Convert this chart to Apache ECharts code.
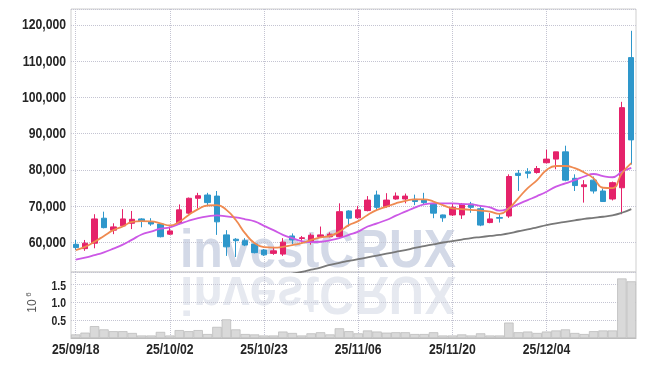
<!DOCTYPE html>
<html>
<head>
<meta charset="utf-8">
<script src="https://cdn.jsdelivr.net/npm/echarts@6/dist/echarts.min.js"></script>
<style>
html,body{margin:0;padding:0;background:#fff;}
#chart{width:645px;height:366px;}
</style>
</head>
<body>
<div id="chart"></div>
<script>
const categories = ['25/09/18','25/09/19','25/09/22','25/09/23','25/09/24','25/09/25','25/09/26','25/09/29','25/09/30','25/10/01',
'25/10/02','25/10/10','25/10/13','25/10/14','25/10/15','25/10/16','25/10/17','25/10/20','25/10/21','25/10/22',
'25/10/23','25/10/24','25/10/27','25/10/28','25/10/29','25/10/30','25/10/31','25/11/03','25/11/04','25/11/05',
'25/11/06','25/11/07','25/11/10','25/11/11','25/11/12','25/11/13','25/11/14','25/11/17','25/11/18','25/11/19',
'25/11/20','25/11/21','25/11/24','25/11/25','25/11/26','25/11/27','25/11/28','25/12/01','25/12/02','25/12/03',
'25/12/04','25/12/05','25/12/08','25/12/09','25/12/10','25/12/11','25/12/12','25/12/15','25/12/16','25/12/17'];

const opens = [59500,58300,59800,66700,63400,64600,65300,66500,65700,65100,
62300,65300,68100,72200,73100,72800,62100,60900,60500,59600,
57900,57000,56800,61800,61100,60000,61600,61600,61600,68700,
66800,68800,73100,69900,72000,72000,71900,71700,70800,67600,
67600,67600,70600,69300,65500,66900,67300,79100,79500,79300,
82000,83000,85000,77700,75400,77200,74200,72000,75100,111000];

const closes = [58600,59800,66500,64100,64300,66500,66400,65900,65100,61600,
63200,69000,72200,72900,71000,65700,58800,60500,59300,57200,
56600,57700,60100,60700,61300,62000,62100,62300,68500,66700,
69000,71700,69700,71700,72800,72800,71300,71000,68100,66800,
69700,70600,69700,64800,66500,66700,78200,78500,79100,80400,
83000,85000,77200,75700,75900,74200,71300,76500,97200,88300];

const lows = [57900,57700,58400,63900,62300,64400,63700,64200,64600,61400,
62100,65000,67900,69400,70300,62100,56300,56000,59000,57000,
56300,56600,56300,59600,60000,59400,61400,61400,61400,64400,
66500,68600,68800,69600,71800,70800,70300,70600,66700,65700,
67300,66500,68200,64500,65300,65500,66800,74200,77700,79000,
81800,80200,76900,74200,71000,73500,71200,71600,67800,81500];

const highs = [60700,60700,67800,68500,65300,69200,68700,66700,66700,65100,
64400,70500,72400,73700,73700,74200,63400,61200,61200,59800,
58200,58800,61200,62500,61800,62500,64400,62800,70800,68900,
70100,72800,74300,73600,73800,73500,73200,73700,70900,67700,
70600,70900,71200,70000,68100,67800,78800,80000,80500,81100,
85600,85000,86700,78800,77200,78200,74900,76800,98800,118400];

// volume in millions of shares
const volumes = [0.10,0.15,0.33,0.24,0.19,0.19,0.14,0.07,0.07,0.17,
0.07,0.22,0.19,0.22,0.11,0.31,0.52,0.24,0.11,0.10,
0.07,0.07,0.18,0.14,0.07,0.13,0.16,0.10,0.27,0.19,
0.13,0.21,0.18,0.15,0.16,0.16,0.11,0.11,0.16,0.07,
0.07,0.10,0.07,0.13,0.07,0.07,0.43,0.16,0.18,0.14,
0.18,0.21,0.24,0.14,0.11,0.19,0.21,0.21,1.66,1.58];

const ma5 = [57900,58800,60200,61800,63400,64400,65700,65900,65800,65300,
64700,65700,67600,69200,70200,70300,69000,66200,62500,59800,
58700,58600,58800,59300,59800,60700,61400,61800,63000,64800,
65900,67600,69000,69900,70800,71500,71900,71900,71300,70300,
69400,69200,69000,68800,68500,67900,69400,72200,75000,77200,
80000,81100,81100,80500,79300,77700,75100,75000,79100,81900];

const ma10 = [55300,55800,56500,57300,58300,59400,60800,62200,63000,63800,
64200,65100,66000,66700,67200,67500,67200,66900,66400,65800,
64600,63400,62100,61200,60400,60100,60200,60600,61200,62100,
63000,64400,65300,66200,67400,68500,69600,70500,70800,70800,
70800,70600,70500,70100,69700,68800,69400,70600,71700,72800,
74000,75400,76300,77200,78200,78900,78300,78000,79500,80600];

const ma60 = [null,null,null,null,null,null,null,null,null,null,
null,null,null,null,null,null,null,null,null,null,
null,null,null,51400,51900,52500,53100,53800,54400,54900,
55400,55900,56400,56900,57400,57900,58500,59000,59500,60000,
60400,60800,61200,61500,61800,62100,62500,63100,63600,64200,
64800,65300,65700,66100,66500,66800,67100,67500,68200,69200];

// tick labels
const priceTicks = [60000, 70000, 80000, 90000, 100000, 110000, 120000];
const volTicks = [0.5, 1.0, 1.5];
const dateTicks = ['25/09/18','25/10/02','25/10/23','25/11/06','25/11/20','25/12/04'];

const priceMin = 51860, priceMax = 124410;
const volMax = 1.84;

const ohlc = opens.map((o, i) => [o, closes[i], lows[i], highs[i]]);

const GRID_LEFT = 71, GRID_RIGHT = 9, MAIN_TOP = 9, MAIN_H = 263, VOL_TOP = 272, VOL_H = 66;
const LABEL_FONT = "'Liberation Sans', Arial, sans-serif";
const LABEL_SCALE = 0.87;
const UP = '#e5226a', DOWN = '#2e97cb';
const gridLine = {show: true, interval: 9, alignWithLabel: true, lineStyle: {type: 'dotted', color: '#c4c4d2', width: 1}};
const hLine = {show: true, lineStyle: {type: 'dotted', color: '#c4c4d2', width: 1}};

const chart = echarts.init(document.getElementById('chart'), null, {renderer: 'canvas'});
const baseGraphic = [
  {type: 'text', id: 'wm', z: -10, x: 318, y: 279, scaleX: 0.91, silent: true,
   style: {text: 'investCRUX', font: "bold 53px 'Liberation Sans', Arial, sans-serif", fill: '#d3d9e7', align: 'center', verticalAlign: 'bottom'}},
  {type: 'text', id: 'wmr', z: -10, x: 318, y: 265, scaleX: 0.91, scaleY: -1, silent: true,
   style: {text: 'investCRUX', font: "bold 53px 'Liberation Sans', Arial, sans-serif", fill: '#e6e9f0', align: 'center', verticalAlign: 'bottom'}},
  {type: 'text', id: 'u10', x: 32.5, y: 306, rotation: Math.PI / 2, silent: true,
   style: {text: '10', font: "12px 'Liberation Sans', sans-serif", fill: '#555', align: 'center', verticalAlign: 'middle'}},
  {type: 'text', id: 'u6', x: 29.2, y: 294.5, rotation: Math.PI / 2, silent: true,
   style: {text: '6', font: "8px 'Liberation Sans', sans-serif", fill: '#555', align: 'center', verticalAlign: 'middle'}}
];

chart.setOption({
  animation: false,
  backgroundColor: '#ffffff',
  grid: [
    {left: GRID_LEFT, right: GRID_RIGHT, top: MAIN_TOP, height: MAIN_H, show: true, borderColor: '#cfcfcf', borderWidth: 1},
    {left: GRID_LEFT, right: GRID_RIGHT, top: VOL_TOP, height: VOL_H, show: true, borderColor: '#cfcfcf', borderWidth: 1}
  ],
  graphic: baseGraphic,
  xAxis: [
    {type: 'category', gridIndex: 0, data: categories, boundaryGap: true,
     axisLine: {show: false}, axisTick: {show: false}, axisLabel: {show: false, interval: 9},
     splitLine: gridLine},
    {type: 'category', gridIndex: 1, data: categories, boundaryGap: true,
     axisLine: {show: true, lineStyle: {color: '#bdbdbd'}}, axisTick: {show: false},
     axisLabel: {show: false, interval: 9},
     splitLine: gridLine}
  ],
  yAxis: [
    {type: 'value', gridIndex: 0, min: priceMin, max: priceMax, splitNumber: 7, minInterval: 10000, maxInterval: 10000,
     axisLine: {show: false}, axisTick: {show: false}, axisLabel: {show: false}, splitLine: hLine},
    {type: 'value', gridIndex: 1, min: 0, max: volMax, interval: 0.5,
     axisLine: {show: false}, axisTick: {show: false}, axisLabel: {show: false}, splitLine: hLine}
  ],
  series: [
    {type: 'candlestick', xAxisIndex: 0, yAxisIndex: 0, data: ohlc, barWidth: '62%',
     itemStyle: {color: UP, color0: DOWN, borderColor: UP, borderColor0: DOWN, borderWidth: 1}},
    {type: 'line', xAxisIndex: 0, yAxisIndex: 0, data: ma60, showSymbol: false, smooth: true,
     lineStyle: {color: '#787878', width: 1.8}},
    {type: 'line', xAxisIndex: 0, yAxisIndex: 0, data: ma10, showSymbol: false, smooth: true,
     lineStyle: {color: '#cc58e6', width: 1.8}},
    {type: 'line', xAxisIndex: 0, yAxisIndex: 0, data: ma5, showSymbol: false, smooth: true,
     lineStyle: {color: '#ef8a50', width: 1.8}},
    {type: 'bar', xAxisIndex: 1, yAxisIndex: 1, data: volumes, barWidth: '100%',
     itemStyle: {color: '#d9d9d9', borderColor: '#b8b8b8', borderWidth: 0.7}}
  ]
});

// Axis tick labels placed via the chart's own scales, drawn horizontally condensed
const labels = [];
priceTicks.forEach(v => {
  const y = chart.convertToPixel({yAxisIndex: 0}, v);
  labels.push({type: 'text', x: GRID_LEFT - 5, y: y + 0.5, scaleX: LABEL_SCALE, silent: true,
    style: {text: v.toLocaleString('en-US'), font: 'bold 14px ' + LABEL_FONT, fill: '#252525', align: 'right', verticalAlign: 'middle'}});
});
volTicks.forEach(v => {
  const y = chart.convertToPixel({yAxisIndex: 1}, v);
  labels.push({type: 'text', x: GRID_LEFT - 5, y: y + 2, scaleX: LABEL_SCALE, silent: true,
    style: {text: v.toFixed(1), font: 'bold 12px ' + LABEL_FONT, fill: '#252525', align: 'right', verticalAlign: 'middle'}});
});
const volBottom = chart.convertToPixel({yAxisIndex: 1}, 0);
dateTicks.forEach(d => {
  const x = chart.convertToPixel({xAxisIndex: 1}, d);
  labels.push({type: 'text', x: x, y: volBottom + 12, scaleX: LABEL_SCALE, silent: true,
    style: {text: d, font: 'bold 14px ' + LABEL_FONT, fill: '#252525', align: 'center', verticalAlign: 'middle'}});
});
chart.setOption({graphic: baseGraphic.concat(labels)});
</script>
</body>
</html>
